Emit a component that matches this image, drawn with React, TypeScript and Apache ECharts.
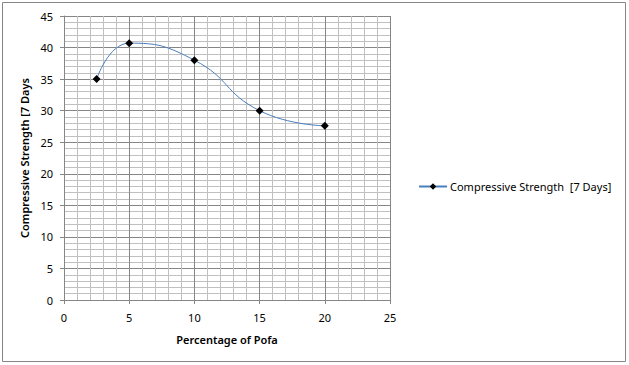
import React, { useEffect, useRef } from "react";
import * as echarts from "echarts";

const seriesName = "Compressive Strength  [7 Days]";
const xValues = [2.5, 5, 10, 15, 20];
const yValues = [35, 40.7, 38, 30, 27.6];
const xTitle = "Percentage of Pofa";
const yTitle = "Compressive Strength [7 Days";

const FONT = "'Noto Sans', sans-serif";

export default function App() {
  const ref = useRef<HTMLDivElement>(null);
  useEffect(() => {
    document.body.style.margin = "0";
    const chart = echarts.init(ref.current!, undefined, { renderer: "svg" });
    const data = xValues.map((x, i) => [x, yValues[i]]);
    chart.setOption({
      animation: false,
      backgroundColor: "#ffffff",
      textStyle: { fontFamily: FONT },
      grid: { left: 64, top: 16, width: 326, height: 284 },
      graphic: [
        {
          type: "rect",
          shape: { x: 2.5, y: 2.5, width: 623, height: 359 },
          style: { fill: "none", stroke: "#868686", lineWidth: 1 },
          silent: true,
          z: -10,
        },
      ],
      legend: {
        left: 413,
        top: 176,
        itemWidth: 28,
        itemHeight: 8,
        itemGap: 4,
        textStyle: { fontFamily: FONT, fontSize: 11, color: "#000", padding: [0, 0, 0, -2] },
        data: [seriesName],
      },
      xAxis: {
        type: "value",
        min: 0,
        max: 25,
        interval: 5,
        name: xTitle,
        nameLocation: "middle",
        nameGap: 34,
        nameTextStyle: { fontFamily: FONT, fontSize: 11, fontWeight: 600, color: "#000" },
        axisLine: { show: true, lineStyle: { color: "#868686" } },
        axisTick: { show: true, inside: false, length: 4, lineStyle: { color: "#868686" } },
        axisLabel: { fontFamily: FONT, fontSize: 11, color: "#000", margin: 12 },
        splitLine: { show: true, lineStyle: { color: "#868686", width: 1 } },
        minorTick: { show: false, splitNumber: 5 },
        minorSplitLine: { show: true, lineStyle: { color: "#c0c0c0", width: 1 } },
      },
      yAxis: {
        type: "value",
        min: 0,
        max: 45,
        interval: 5,
        name: yTitle,
        nameLocation: "middle",
        nameGap: 30,
        nameRotate: 90,
        nameTextStyle: { fontFamily: FONT, fontSize: 11, fontWeight: 600, color: "#000" },
        axisLine: { show: true, lineStyle: { color: "#868686" } },
        axisTick: { show: true, inside: false, length: 4, lineStyle: { color: "#868686" } },
        axisLabel: { fontFamily: FONT, fontSize: 11, color: "#000", margin: 11 },
        splitLine: { show: true, lineStyle: { color: "#868686", width: 1 } },
        minorTick: { show: false, splitNumber: 5 },
        minorSplitLine: { show: true, lineStyle: { color: "#c0c0c0", width: 1 } },
      },
      series: [
        {
          name: seriesName,
          type: "line",
          data,
          smooth: 0.5,
          symbol: "diamond",
          symbolSize: 8,
          itemStyle: { color: "#000000" },
          lineStyle: { color: "#4a7ebb", width: 1 },
        },
      ],
    });
    return () => chart.dispose();
  }, []);
  return <div ref={ref} style={{ position: "absolute", left: 0, top: 0, width: 629, height: 365 }} />;
}
